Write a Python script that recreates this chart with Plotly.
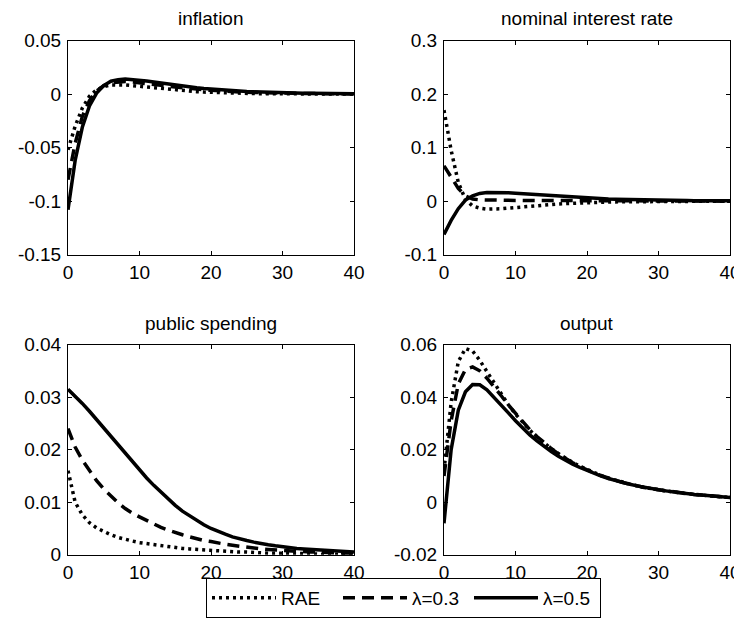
import plotly.graph_objects as go

# ---------------- data ----------------
periods = list(range(41))
series_names = ["RAE", "λ=0.3", "λ=0.5"]
panel_titles = ["inflation", "nominal interest rate", "public spending", "output"]

x_tickvals = [0, 10, 20, 30, 40]
x_ticktext = ["0", "10", "20", "30", "40"]

inflation_ticks = [-0.15, -0.1, -0.05, 0, 0.05]
inflation_ticktext = ["-0.15", "-0.1", "-0.05", "0", "0.05"]
rate_ticks = [-0.1, 0, 0.1, 0.2, 0.3]
rate_ticktext = ["-0.1", "0", "0.1", "0.2", "0.3"]
spend_ticks = [0, 0.01, 0.02, 0.03, 0.04]
spend_ticktext = ["0", "0.01", "0.02", "0.03", "0.04"]
output_ticks = [-0.02, 0, 0.02, 0.04, 0.06]
output_ticktext = ["-0.02", "0", "0.02", "0.04", "0.06"]

inflation_rae = [-0.052, -0.030, -0.013, -0.002, 0.004, 0.007, 0.0085, 0.0088, 0.0085, 0.0079,
                 0.0072, 0.0065, 0.0057, 0.0050, 0.0044, 0.0038, 0.0032, 0.0027, 0.0023, 0.0019,
                 0.0016, 0.0013, 0.0011, 0.0009, 0.0007, 0.0006, 0.0005, 0.0004, 0.0003, 0.0002,
                 0.0002, 0.0001, 0.0001, 0.0001, 0.0001, 0.0, 0.0, 0.0, 0.0, 0.0,
                 0.0]
inflation_l03 = [-0.080, -0.046, -0.021, -0.006, 0.003, 0.008, 0.0105, 0.0115, 0.0117, 0.0113,
                 0.0107, 0.0099, 0.0091, 0.0082, 0.0074, 0.0066, 0.0058, 0.0051, 0.0045, 0.0040,
                 0.0035, 0.0030, 0.0026, 0.0023, 0.0020, 0.0017, 0.0015, 0.0013, 0.0011, 0.0010,
                 0.0008, 0.0007, 0.0006, 0.0005, 0.0005, 0.0004, 0.0003, 0.0003, 0.0002, 0.0002,
                 0.0002]
inflation_l05 = [-0.108, -0.062, -0.031, -0.011, 0.001, 0.008, 0.012, 0.0135, 0.014, 0.0137,
                 0.0131, 0.0123, 0.0114, 0.0104, 0.0094, 0.0085, 0.0076, 0.0068, 0.0060, 0.0053,
                 0.0047, 0.0041, 0.0036, 0.0032, 0.0028, 0.0024, 0.0021, 0.0018, 0.0016, 0.0014,
                 0.0012, 0.0010, 0.0009, 0.0008, 0.0007, 0.0006, 0.0005, 0.0004, 0.0004, 0.0003,
                 0.0003]

rate_rae = [0.170, 0.095, 0.035, 0.003, -0.009, -0.013, -0.0148, -0.0150, -0.0142, -0.0130,
            -0.0117, -0.0104, -0.0092, -0.0080, -0.0070, -0.0061, -0.0052, -0.0045, -0.0038, -0.0032,
            -0.0027, -0.0023, -0.0019, -0.0016, -0.0013, -0.0011, -0.0009, -0.0008, -0.0006, -0.0005,
            -0.0004, -0.0004, -0.0003, -0.0003, -0.0002, -0.0002, -0.0001, -0.0001, -0.0001, -0.0001,
            0.0]
rate_l03 = [0.066, 0.045, 0.024, 0.010, 0.004, 0.0025, 0.002, 0.0018, 0.0017, 0.0016,
            0.0015, 0.0014, 0.0013, 0.0012, 0.0011, 0.0010, 0.0009, 0.0008, 0.0007, 0.0006,
            0.0006, 0.0005, 0.0005, 0.0004, 0.0004, 0.0003, 0.0003, 0.0003, 0.0002, 0.0002,
            0.0002, 0.0002, 0.0001, 0.0001, 0.0001, 0.0001, 0.0001, 0.0001, 0.0, 0.0,
            0.0]
rate_l05 = [-0.062, -0.036, -0.014, 0.002, 0.010, 0.0145, 0.0162, 0.0166, 0.0164, 0.0158,
            0.0150, 0.0141, 0.0131, 0.0121, 0.0111, 0.0101, 0.0092, 0.0083, 0.0075, 0.0067,
            0.0060, 0.0054, 0.0048, 0.0043, 0.0038, 0.0034, 0.0030, 0.0027, 0.0024, 0.0021,
            0.0019, 0.0017, 0.0015, 0.0013, 0.0012, 0.0010, 0.0009, 0.0008, 0.0007, 0.0006,
            0.0006]

spend_rae = [0.0160, 0.0100, 0.0076, 0.0061, 0.0051, 0.0044, 0.0038, 0.0033, 0.0029, 0.0026,
             0.0023, 0.0021, 0.0019, 0.0017, 0.0015, 0.0014, 0.0012, 0.0011, 0.0010, 0.0009,
             0.0008, 0.0007, 0.0007, 0.0006, 0.0005, 0.0005, 0.0004, 0.0004, 0.0003, 0.0003,
             0.0003, 0.0002, 0.0002, 0.0002, 0.0002, 0.0001, 0.0001, 0.0001, 0.0001, 0.0001,
             0.0001]
spend_l03 = [0.0240, 0.0205, 0.0180, 0.0159, 0.0141, 0.0125, 0.0111, 0.0099, 0.0088, 0.0079,
             0.0072, 0.0065, 0.0058, 0.0052, 0.0047, 0.0042, 0.0038, 0.0034, 0.0030, 0.0027,
             0.0025, 0.0022, 0.0020, 0.0018, 0.0016, 0.0014, 0.0012, 0.0011, 0.0010, 0.0009,
             0.0008, 0.0007, 0.0006, 0.0006, 0.0005, 0.0005, 0.0004, 0.0004, 0.0003, 0.0003,
             0.0003]
spend_l05 = [0.0315, 0.0302, 0.0288, 0.0273, 0.0257, 0.0241, 0.0225, 0.0208, 0.0192, 0.0176,
             0.0161, 0.0146, 0.0132, 0.0119, 0.0106, 0.0094, 0.0083, 0.0074, 0.0065, 0.0057,
             0.0050, 0.0044, 0.0039, 0.0034, 0.0030, 0.0027, 0.0024, 0.0021, 0.0019, 0.0017,
             0.0015, 0.0013, 0.0012, 0.0011, 0.0010, 0.0009, 0.0008, 0.0007, 0.0006, 0.0006,
             0.0005]

output_rae = [0.012, 0.038, 0.0535, 0.0585, 0.0575, 0.0540, 0.0497, 0.0453, 0.0410, 0.0371,
              0.0335, 0.0303, 0.0274, 0.0248, 0.0225, 0.0204, 0.0185, 0.0167, 0.0151, 0.0137,
              0.0124, 0.0112, 0.0101, 0.0091, 0.0083, 0.0075, 0.0068, 0.0062, 0.0056, 0.0051,
              0.0047, 0.0043, 0.0039, 0.0035, 0.0032, 0.0029, 0.0027, 0.0024, 0.0022, 0.0020,
              0.0018]
output_l03 = [0.010, 0.031, 0.045, 0.0505, 0.0515, 0.0500, 0.0472, 0.0440, 0.0405, 0.0370,
              0.0337, 0.0305, 0.0276, 0.0250, 0.0226, 0.0204, 0.0184, 0.0166, 0.0150, 0.0136,
              0.0123, 0.0111, 0.0101, 0.0091, 0.0083, 0.0075, 0.0068, 0.0062, 0.0056, 0.0051,
              0.0047, 0.0043, 0.0039, 0.0035, 0.0032, 0.0029, 0.0027, 0.0024, 0.0022, 0.0020,
              0.0018]
output_l05 = [-0.008, 0.020, 0.035, 0.042, 0.0448, 0.0447, 0.0428, 0.0400, 0.0370, 0.0340,
              0.0310, 0.0282, 0.0256, 0.0233, 0.0212, 0.0193, 0.0175, 0.0159, 0.0145, 0.0132,
              0.0120, 0.0109, 0.0099, 0.0090, 0.0082, 0.0075, 0.0068, 0.0062, 0.0056, 0.0051,
              0.0047, 0.0043, 0.0039, 0.0035, 0.0032, 0.0029, 0.0027, 0.0024, 0.0022, 0.0020,
              0.0018]

# ---------------- figure ----------------
OFF = 8                          # the page body margin shifts the figure by 8px
W, H = 742 - OFF, 626 - 2 * OFF  # figure size so that the page does not overflow
FONT = "Liberation Sans, Arial, Helvetica, sans-serif"
FS = 19


def px(v):
    return v - OFF


panels = [
    (inflation_rae, inflation_l03, inflation_l05, [-0.15, 0.05], inflation_ticks, inflation_ticktext),
    (rate_rae, rate_l03, rate_l05, [-0.1, 0.3], rate_ticks, rate_ticktext),
    (spend_rae, spend_l03, spend_l05, [0, 0.04], spend_ticks, spend_ticktext),
    (output_rae, output_l03, output_l05, [-0.02, 0.06], output_ticks, output_ticktext),
]

# screen pixel boxes of the four axes (left, right, top, bottom) and title centres
boxes = [(68, 354, 41, 258), (444, 730, 41, 258), (68, 354, 349, 562), (444, 730, 349, 562)]
title_y = [19, 19, 328, 328]
styles = [dict(dash="3px,4px", width=3.5), dict(dash="12px,7px", width=3.5), dict(dash="solid", width=3.5)]

fig = go.Figure()
layout = dict(
    width=W, height=H,
    margin=dict(l=0, r=0, t=0, b=0),
    paper_bgcolor="white", plot_bgcolor="white",
    font=dict(family=FONT, size=FS, color="black"),
    showlegend=True,
    legend=dict(
        orientation="h", x=px(206) / W, xanchor="left", y=1 - px(586) / H, yanchor="top",
        bordercolor="black", borderwidth=1, bgcolor="white",
        font=dict(family=FONT, size=FS, color="black"),
        itemwidth=64, entrywidth=52, tracegroupgap=0,
    ),
    annotations=[],
)

for i, (rae, l03, l05, yr, yt, ytt) in enumerate(panels):
    n = "" if i == 0 else str(i + 1)
    left, right, top, bottom = boxes[i]
    for j, ys in enumerate([rae, l03, l05]):
        fig.add_trace(go.Scatter(
            x=periods, y=ys, mode="lines", name=series_names[j],
            line=dict(color="black", **styles[j]),
            xaxis="x" + n, yaxis="y" + n, showlegend=(i == 0),
        ))
    common = dict(showline=True, linecolor="black", linewidth=1, mirror="ticks",
                  ticks="inside", ticklen=4, tickcolor="black", showgrid=False,
                  zeroline=False, automargin=False,
                  tickfont=dict(family=FONT, size=FS, color="black"))
    layout["xaxis" + n] = dict(domain=[px(left) / W, px(right) / W], anchor="y" + n, range=[0, 40],
                               tickvals=x_tickvals, ticktext=x_ticktext, **common)
    layout["yaxis" + n] = dict(domain=[1 - px(bottom) / H, 1 - px(top) / H], anchor="x" + n, range=yr,
                               tickvals=yt, ticktext=ytt, ticklabelstandoff=2, **common)
    layout["annotations"].append(dict(
        text=panel_titles[i], x=px((left + right) / 2) / W, xref="paper", xanchor="center",
        y=1 - px(title_y[i]) / H, yref="paper", yanchor="middle", showarrow=False,
        font=dict(family=FONT, size=FS, color="black"),
    ))

fig.update_layout(**layout)
fig.write_html("out.html")
